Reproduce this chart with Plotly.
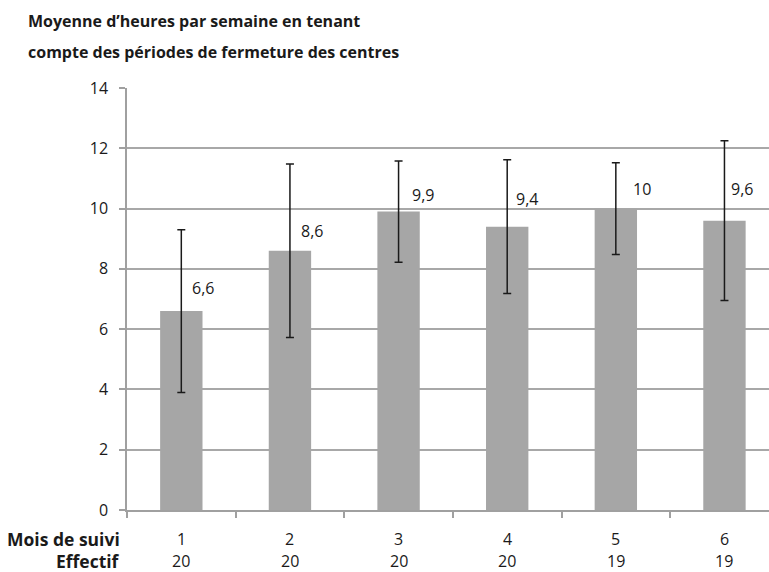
import plotly.graph_objects as go

# ---- data ----
months = [1, 2, 3, 4, 5, 6]
effectif = [20, 20, 20, 20, 19, 19]
moyenne = [6.6, 8.6, 9.9, 9.4, 10.0, 9.6]
erreur = [2.7, 2.88, 1.68, 2.22, 1.52, 2.65]
y_ticks = [0, 2, 4, 6, 8, 10, 12, 14]
title_lines = ["Moyenne d\u2019heures par semaine en tenant",
               "compte des périodes de fermeture des centres"]
row_labels = ["Mois de suivi", "Effectif"]

# ---- styles ----
label_xshift = [9, 9, 11, 7, 15, 5]
label_yshift = [23, 20, 17, 28, 20, 32]
FONT = "Open Sans"
W, H = 769, 572
ML, MR, MT, MB = 127, 0, 88, 62
plot_w = W - ML - MR
plot_h = H - MT - MB
ROW_Y = [539, 561]

cats = [str(m) for m in months]

fig = go.Figure()
fig.add_trace(go.Bar(
    x=cats, y=moyenne,
    marker=dict(color="#a6a6a6", line=dict(width=0)),
    width=0.39,
    error_y=dict(type="data", array=erreur, visible=True,
                 color="#1a1a1a", thickness=1.5, width=4),
    hoverinfo="skip",
))

def fmt(v):
    s = f"{v:g}"
    return s.replace(".", ",")

def px_to_paper_x(px):
    return (px - ML) / plot_w

def py_to_paper_y(py):
    return (H - MB - py) / plot_h

anns = []
for i, v in enumerate(moyenne):
    anns.append(dict(x=i, y=v, xref="x", yref="y", text=fmt(v),
                     showarrow=False, xanchor="left", yanchor="middle",
                     xshift=label_xshift[i], yshift=label_yshift[i],
                     font=dict(family=FONT, size=16, color="#1a1a1a")))

# category tick labels: two rows (month, effectif)
for i, (m, n) in enumerate(zip(months, effectif)):
    for txt, py in zip([str(m), str(n)], ROW_Y):
        anns.append(dict(x=i, y=py_to_paper_y(py), xref="x", yref="paper", text=txt,
                         showarrow=False, xanchor="center", yanchor="middle",
                         font=dict(family=FONT, size=16, color="#1a1a1a")))

for t, py in zip(title_lines, [21, 52]):
    anns.append(dict(x=px_to_paper_x(26), y=py_to_paper_y(py), xref="paper", yref="paper",
                     text=f"<b>{t}</b>", showarrow=False, xanchor="left", yanchor="middle",
                     font=dict(family=FONT, size=16, color="#1a1a1a")))

for t, py in zip(row_labels, ROW_Y):
    anns.append(dict(x=px_to_paper_x(122), y=py_to_paper_y(py), xref="paper", yref="paper",
                     text=f"<b>{t}</b>", showarrow=False, xanchor="right", yanchor="middle",
                     font=dict(family=FONT, size=17.5, color="#1a1a1a")))

fig.update_layout(
    width=W, height=H,
    margin=dict(l=ML, r=MR, t=MT, b=MB, pad=0),
    paper_bgcolor="white", plot_bgcolor="white",
    showlegend=False,
    annotations=anns,
)
fig.update_xaxes(
    type="category", range=[-0.5, 5.41],
    tickmode="array", tickvals=cats, showticklabels=False,
    tickson="boundaries", ticks="outside", ticklen=6, tickcolor="#a0a0a0", tickwidth=1.5,
    showline=True, linecolor="#a0a0a0", linewidth=1.5,
    showgrid=False,
)
fig.update_yaxes(
    range=[0, 14], tickmode="array", tickvals=y_ticks,
    ticktext=[str(v) for v in y_ticks],
    ticks="outside", ticklen=6, tickcolor="#a0a0a0", tickwidth=1.5,
    showline=True, linecolor="#a0a0a0", linewidth=1.5,
    showgrid=True, gridcolor="#a8a8a8", gridwidth=1.5,
    zeroline=False,
    tickfont=dict(family=FONT, size=16, color="#1a1a1a"),
    ticklabelstandoff=8,
)

fig.write_html("out.html", config={"displayModeBar": False},
               post_script="document.body.style.margin='0';document.body.style.overflow='hidden';")
